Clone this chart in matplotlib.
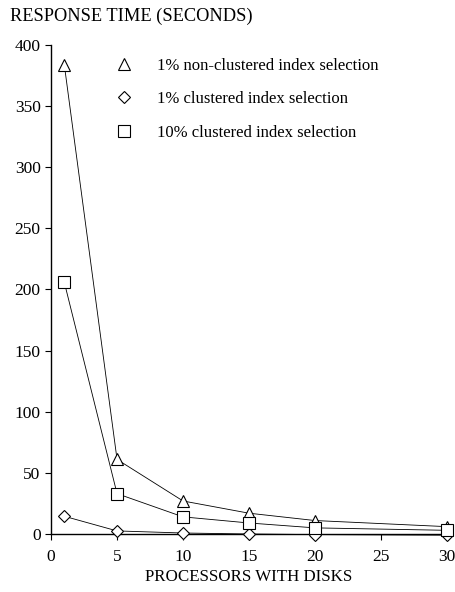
import matplotlib
matplotlib.use("Agg")
import matplotlib.pyplot as plt
from matplotlib.lines import Line2D

processors = [1, 5, 10, 15, 20, 30]
nonclustered_1pct = [384, 61, 27, 17, 11, 6]
clustered_1pct = [14.5, 2.5, 0.8, 0, -0.5, -1]
clustered_10pct = [206, 33, 14, 9, 5, 3]
labels = ["1% non-clustered index selection",
          "1% clustered index selection",
          "10% clustered index selection"]
xticks = [0, 5, 10, 15, 20, 25, 30]
yticks = [0, 50, 100, 150, 200, 250, 300, 350, 400]

plt.rcParams['font.family'] = ['Liberation Serif', 'DejaVu Serif']

fig = plt.figure(figsize=(4.56, 5.92), dpi=100)
ax = fig.add_axes([0.112, 0.098, 0.868, 0.826])

series = [(nonclustered_1pct, '^', 9), (clustered_1pct, 'D', 6), (clustered_10pct, 's', 8)]
for vals, m, ms in series:
    ax.plot(processors, vals, color='black', lw=0.6, marker=m, ms=ms,
            mfc='white', mec='black', mew=0.8, clip_on=False, zorder=3)

ax.set_xlim(0, 30)
ax.set_ylim(0, 400)
ax.set_xticks(xticks)
ax.set_yticks(yticks)
ax.spines['top'].set_visible(False)
ax.spines['right'].set_visible(False)
ax.spines['left'].set_linewidth(1.0)
ax.spines['bottom'].set_linewidth(1.0)
ax.tick_params(axis='both', labelsize=12.5, length=4, width=0.8, direction='out')
ax.tick_params(axis='x', pad=7)

ax.set_xlabel("PROCESSORS WITH DISKS", fontsize=12.2, labelpad=3)
fig.text(0.022, 0.973, "RESPONSE TIME (SECONDS)", fontsize=13.2, ha='left', va='center')

handles = [Line2D([], [], ls='none', marker=m, ms=ms, mfc='white', mec='black', mew=0.8)
           for _, m, ms in series]
leg = ax.legend(handles, labels, loc='upper left', bbox_to_anchor=(0.125, 1.005),
                frameon=False, fontsize=12, handlelength=1.0, handletextpad=1.5,
                labelspacing=1.05)

fig.savefig("out.png", dpi=100)
